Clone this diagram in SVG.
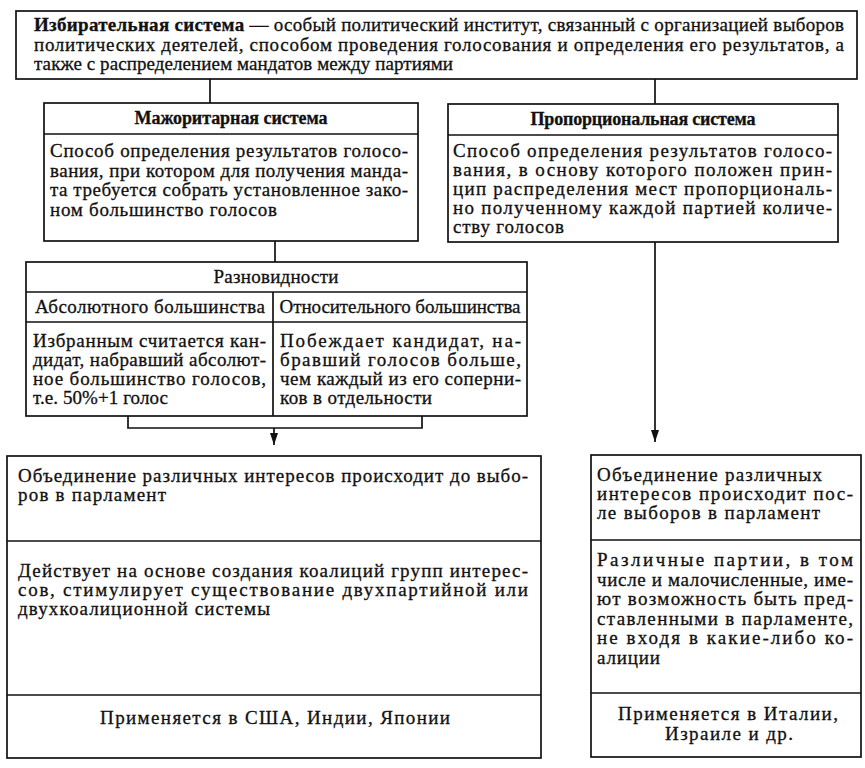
<svg xmlns="http://www.w3.org/2000/svg" width="865" height="768" viewBox="0 0 865 768">
<defs>
<marker id="ah" viewBox="0 0 12 8" refX="12" refY="4" markerWidth="12" markerHeight="8" markerUnits="userSpaceOnUse" orient="auto">
<path d="M0,0 L12,4 L0,8 Z" fill="#111"/>
</marker>
<style>
.box{fill:#fff;stroke:#111;stroke-width:1.7}
.ln{stroke:#111;stroke-width:1.7;fill:none}
.t{font-family:"Liberation Serif","Times New Roman",serif;font-size:19px;fill:#111;stroke:#111;stroke-width:0.3}
.b{font-weight:bold}
.h{font-size:18px}
.c{text-anchor:middle}
</style>
</defs>
<rect width="865" height="768" fill="#fff"/>

<g id="connectors">
<line class="ln" x1="210" y1="79" x2="210" y2="103"/>
<line class="ln" x1="655" y1="79" x2="655" y2="104"/>
<line class="ln" x1="275" y1="241" x2="275" y2="262"/>
<path class="ln" d="M128,416 V428 H422 V416"/>
<line class="ln" x1="274" y1="428" x2="274" y2="445" marker-end="url(#ah)"/>
<line class="ln" x1="655" y1="242" x2="655" y2="442" marker-end="url(#ah)"/>
</g>

<g id="electoral-system">
<rect class="box" x="16" y="11" width="841" height="68"/>
<text class="t" x="34" y="31" textLength="810" lengthAdjust="spacing"><tspan class="b">Избирательная система</tspan> — особый политический институт, связанный с организацией выборов</text>
<text class="t" x="34" y="50.5" textLength="810" lengthAdjust="spacing">политических деятелей, способом проведения голосования и определения его результатов, а</text>
<text class="t" x="34" y="70" textLength="419" lengthAdjust="spacing">также с распределением мандатов между партиями</text>
</g>

<g id="majoritarian">
<rect class="box" x="44" y="103" width="374" height="138"/>
<line class="ln" x1="44" y1="134" x2="418" y2="134"/>
<text class="t b h c" x="231" y="124" textLength="193" lengthAdjust="spacing">Мажоритарная система</text>
<text class="t" x="50" y="157" textLength="358" lengthAdjust="spacing">Способ определения результатов голосо-</text>
<text class="t" x="50" y="176.5" textLength="358" lengthAdjust="spacing">вания, при котором для получения манда-</text>
<text class="t" x="50" y="196" textLength="358" lengthAdjust="spacing">та требуется собрать установленное зако-</text>
<text class="t" x="50" y="215.5" textLength="227" lengthAdjust="spacing">ном большинство голосов</text>
</g>

<g id="proportional">
<rect class="box" x="448" y="104" width="390" height="138"/>
<line class="ln" x1="448" y1="135" x2="838" y2="135"/>
<text class="t b h c" x="643" y="125" textLength="225" lengthAdjust="spacing">Пропорциональная система</text>
<text class="t" x="453" y="157" textLength="379" lengthAdjust="spacing">Способ определения результатов голосо-</text>
<text class="t" x="453" y="176" textLength="379" lengthAdjust="spacing">вания, в основу которого положен прин-</text>
<text class="t" x="453" y="195" textLength="379" lengthAdjust="spacing">цип распределения мест пропорциональ-</text>
<text class="t" x="453" y="214" textLength="379" lengthAdjust="spacing">но полученному каждой партией количе-</text>
<text class="t" x="453" y="233" textLength="111" lengthAdjust="spacing">ству голосов</text>
</g>

<g id="varieties">
<rect class="box" x="26" y="262" width="501" height="154"/>
<line class="ln" x1="26" y1="292" x2="527" y2="292"/>
<line class="ln" x1="26" y1="322" x2="527" y2="322"/>
<line class="ln" x1="273" y1="292" x2="273" y2="416"/>
<text class="t c" x="276" y="283" textLength="125" lengthAdjust="spacing">Разновидности</text>
<text class="t c" x="150" y="313" textLength="230" lengthAdjust="spacing">Абсолютного большинства</text>
<text class="t c" x="400" y="313" textLength="241" lengthAdjust="spacing">Относительного большинства</text>
<text class="t" x="33" y="347" textLength="233" lengthAdjust="spacing">Избранным считается кан-</text>
<text class="t" x="33" y="366" textLength="233" lengthAdjust="spacing">дидат, набравший абсолют-</text>
<text class="t" x="33" y="385" textLength="233" lengthAdjust="spacing">ное большинство голосов,</text>
<text class="t" x="33" y="404" textLength="135" lengthAdjust="spacing">т.е. 50%+1 голос</text>
<text class="t" x="280" y="347" textLength="241" lengthAdjust="spacing">Побеждает кандидат, на-</text>
<text class="t" x="280" y="366" textLength="241" lengthAdjust="spacing">бравший голосов больше,</text>
<text class="t" x="280" y="385" textLength="241" lengthAdjust="spacing">чем каждый из его соперни-</text>
<text class="t" x="280" y="404" textLength="152" lengthAdjust="spacing">ков в отдельности</text>
</g>

<g id="majoritarian-features">
<rect class="box" x="7" y="456" width="534" height="302"/>
<line class="ln" x1="7" y1="541" x2="541" y2="541"/>
<line class="ln" x1="7" y1="695" x2="541" y2="695"/>
<text class="t" x="18" y="482" textLength="510" lengthAdjust="spacing">Объединение различных интересов происходит до выбо-</text>
<text class="t" x="18" y="501" textLength="148" lengthAdjust="spacing">ров в парламент</text>
<text class="t" x="18" y="577" textLength="510" lengthAdjust="spacing">Действует на основе создания коалиций групп интерес-</text>
<text class="t" x="18" y="596" textLength="510" lengthAdjust="spacing">сов, стимулирует существование двухпартийной или</text>
<text class="t" x="18" y="615" textLength="252" lengthAdjust="spacing">двухкоалиционной системы</text>
<text class="t c" x="275" y="724" textLength="350" lengthAdjust="spacing">Применяется в США, Индии, Японии</text>
</g>

<g id="proportional-features">
<rect class="box" x="591" y="455" width="270" height="302"/>
<line class="ln" x1="591" y1="540" x2="861" y2="540"/>
<line class="ln" x1="591" y1="693" x2="861" y2="693"/>
<text class="t" x="597" y="481" textLength="225" lengthAdjust="spacing">Объединение различных</text>
<text class="t" x="597" y="500" textLength="256" lengthAdjust="spacing">интересов происходит пос-</text>
<text class="t" x="597" y="519" textLength="223" lengthAdjust="spacing">ле выборов в парламент</text>
<text class="t" x="597" y="566" textLength="256" lengthAdjust="spacing">Различные партии, в том</text>
<text class="t" x="597" y="585.5" textLength="256" lengthAdjust="spacing">числе и малочисленные, име-</text>
<text class="t" x="597" y="605" textLength="256" lengthAdjust="spacing">ют возможность быть пред-</text>
<text class="t" x="597" y="624.5" textLength="256" lengthAdjust="spacing">ставленными в парламенте,</text>
<text class="t" x="597" y="644" textLength="256" lengthAdjust="spacing">не входя в какие-либо ко-</text>
<text class="t" x="597" y="663.5" textLength="63" lengthAdjust="spacing">алиции</text>
<text class="t c" x="728" y="720" textLength="220" lengthAdjust="spacing">Применяется в Италии,</text>
<text class="t c" x="729" y="740" textLength="128" lengthAdjust="spacing">Израиле и др.</text>
</g>
</svg>
